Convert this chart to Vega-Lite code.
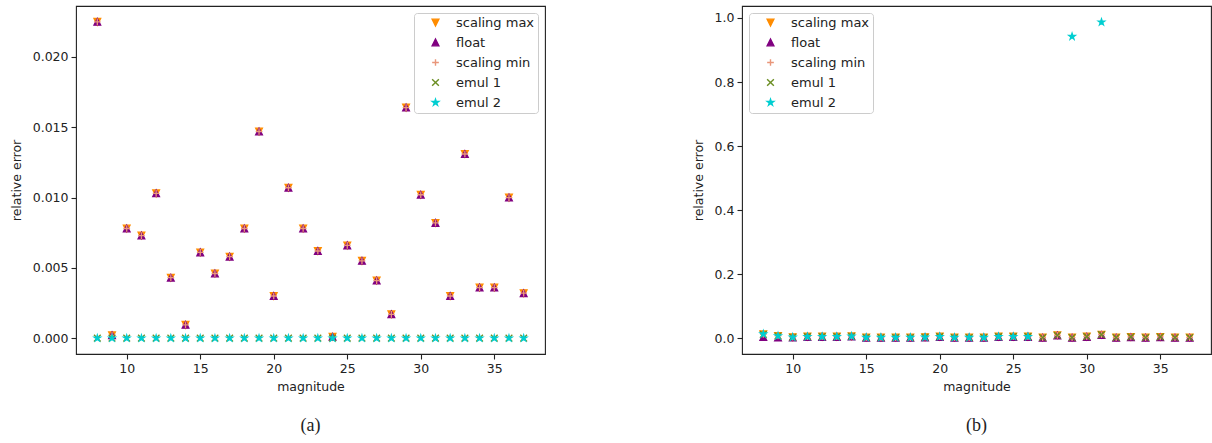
{
"$schema": "https://vega.github.io/schema/vega-lite/v6.json",
"padding": {"left": 9, "top": 5, "right": 2, "bottom": 5},
"background": "white",
"config": {
  "view": {"stroke": "#222", "strokeWidth": 1.1},
  "font": "DejaVu Sans",
  "axis": {"grid": false, "domain": false, "tickColor": "#222", "tickSize": 5, "tickWidth": 1.1, "labelFont": "DejaVu Sans", "labelFontSize": 12.5, "labelColor": "#222", "titleFont": "DejaVu Sans", "titleFontSize": 12.5, "titleFontWeight": "normal", "titleColor": "#222", "labelPadding": 3, "titlePadding": 9},
  "axisX": {"titlePadding": 6},
  "legend": {"offset": 7, "padding": 3, "fillColor": "rgba(255,255,255,0.8)", "strokeColor": "#cccccc", "cornerRadius": 3, "labelFont": "DejaVu Sans", "labelFontSize": 13, "labelColor": "#222", "symbolSize": 45, "symbolStrokeWidth": 1.4, "rowPadding": 6, "labelOffset": 14, "symbolOffset": 12},
  "title": {"font": "Liberation Serif", "fontSize": 18, "fontWeight": "normal", "color": "#222", "orient": "bottom", "anchor": "middle", "offset": 24}
},
"datasets": {
  "a": [
    {"mag":8,"series":"scaling max","err":0.0225},{"mag":9,"series":"scaling max","err":0.0002},{"mag":10,"series":"scaling max","err":0.0078},{"mag":11,"series":"scaling max","err":0.0073},{"mag":12,"series":"scaling max","err":0.0103},{"mag":13,"series":"scaling max","err":0.0043},{"mag":14,"series":"scaling max","err":0.00095},{"mag":15,"series":"scaling max","err":0.0061},{"mag":16,"series":"scaling max","err":0.0046},{"mag":17,"series":"scaling max","err":0.0058},{"mag":18,"series":"scaling max","err":0.0078},{"mag":19,"series":"scaling max","err":0.0147},{"mag":20,"series":"scaling max","err":0.0030},{"mag":21,"series":"scaling max","err":0.0107},{"mag":22,"series":"scaling max","err":0.0078},{"mag":23,"series":"scaling max","err":0.0062},{"mag":24,"series":"scaling max","err":0.0001},{"mag":25,"series":"scaling max","err":0.0066},{"mag":26,"series":"scaling max","err":0.0055},{"mag":27,"series":"scaling max","err":0.0041},{"mag":28,"series":"scaling max","err":0.0017},{"mag":29,"series":"scaling max","err":0.0164},{"mag":30,"series":"scaling max","err":0.0102},{"mag":31,"series":"scaling max","err":0.0082},{"mag":32,"series":"scaling max","err":0.0030},{"mag":33,"series":"scaling max","err":0.0131},{"mag":34,"series":"scaling max","err":0.0036},{"mag":35,"series":"scaling max","err":0.0036},{"mag":36,"series":"scaling max","err":0.0100},{"mag":37,"series":"scaling max","err":0.0032},
    {"mag":8,"series":"float","err":0.0225},{"mag":9,"series":"float","err":0.0002},{"mag":10,"series":"float","err":0.0078},{"mag":11,"series":"float","err":0.0073},{"mag":12,"series":"float","err":0.0103},{"mag":13,"series":"float","err":0.0043},{"mag":14,"series":"float","err":0.00095},{"mag":15,"series":"float","err":0.0061},{"mag":16,"series":"float","err":0.0046},{"mag":17,"series":"float","err":0.0058},{"mag":18,"series":"float","err":0.0078},{"mag":19,"series":"float","err":0.0147},{"mag":20,"series":"float","err":0.0030},{"mag":21,"series":"float","err":0.0107},{"mag":22,"series":"float","err":0.0078},{"mag":23,"series":"float","err":0.0062},{"mag":24,"series":"float","err":0.0001},{"mag":25,"series":"float","err":0.0066},{"mag":26,"series":"float","err":0.0055},{"mag":27,"series":"float","err":0.0041},{"mag":28,"series":"float","err":0.0017},{"mag":29,"series":"float","err":0.0164},{"mag":30,"series":"float","err":0.0102},{"mag":31,"series":"float","err":0.0082},{"mag":32,"series":"float","err":0.0030},{"mag":33,"series":"float","err":0.0131},{"mag":34,"series":"float","err":0.0036},{"mag":35,"series":"float","err":0.0036},{"mag":36,"series":"float","err":0.0100},{"mag":37,"series":"float","err":0.0032},
    {"mag":8,"series":"scaling min","err":0.0225},{"mag":9,"series":"scaling min","err":0.0002},{"mag":10,"series":"scaling min","err":0.0078},{"mag":11,"series":"scaling min","err":0.0073},{"mag":12,"series":"scaling min","err":0.0103},{"mag":13,"series":"scaling min","err":0.0043},{"mag":14,"series":"scaling min","err":0.00095},{"mag":15,"series":"scaling min","err":0.0061},{"mag":16,"series":"scaling min","err":0.0046},{"mag":17,"series":"scaling min","err":0.0058},{"mag":18,"series":"scaling min","err":0.0078},{"mag":19,"series":"scaling min","err":0.0147},{"mag":20,"series":"scaling min","err":0.0030},{"mag":21,"series":"scaling min","err":0.0107},{"mag":22,"series":"scaling min","err":0.0078},{"mag":23,"series":"scaling min","err":0.0062},{"mag":24,"series":"scaling min","err":0.0001},{"mag":25,"series":"scaling min","err":0.0066},{"mag":26,"series":"scaling min","err":0.0055},{"mag":27,"series":"scaling min","err":0.0041},{"mag":28,"series":"scaling min","err":0.0017},{"mag":29,"series":"scaling min","err":0.0164},{"mag":30,"series":"scaling min","err":0.0102},{"mag":31,"series":"scaling min","err":0.0082},{"mag":32,"series":"scaling min","err":0.0030},{"mag":33,"series":"scaling min","err":0.0131},{"mag":34,"series":"scaling min","err":0.0036},{"mag":35,"series":"scaling min","err":0.0036},{"mag":36,"series":"scaling min","err":0.0100},{"mag":37,"series":"scaling min","err":0.0032},
    {"mag":8,"series":"emul 1","err":0},{"mag":9,"series":"emul 1","err":0},{"mag":10,"series":"emul 1","err":0},{"mag":11,"series":"emul 1","err":0},{"mag":12,"series":"emul 1","err":0},{"mag":13,"series":"emul 1","err":0},{"mag":14,"series":"emul 1","err":0},{"mag":15,"series":"emul 1","err":0},{"mag":16,"series":"emul 1","err":0},{"mag":17,"series":"emul 1","err":0},{"mag":18,"series":"emul 1","err":0},{"mag":19,"series":"emul 1","err":0},{"mag":20,"series":"emul 1","err":0},{"mag":21,"series":"emul 1","err":0},{"mag":22,"series":"emul 1","err":0},{"mag":23,"series":"emul 1","err":0},{"mag":24,"series":"emul 1","err":0},{"mag":25,"series":"emul 1","err":0},{"mag":26,"series":"emul 1","err":0},{"mag":27,"series":"emul 1","err":0},{"mag":28,"series":"emul 1","err":0},{"mag":29,"series":"emul 1","err":0},{"mag":30,"series":"emul 1","err":0},{"mag":31,"series":"emul 1","err":0},{"mag":32,"series":"emul 1","err":0},{"mag":33,"series":"emul 1","err":0},{"mag":34,"series":"emul 1","err":0},{"mag":35,"series":"emul 1","err":0},{"mag":36,"series":"emul 1","err":0},{"mag":37,"series":"emul 1","err":0},
    {"mag":8,"series":"emul 2","err":0},{"mag":9,"series":"emul 2","err":0},{"mag":10,"series":"emul 2","err":0},{"mag":11,"series":"emul 2","err":0},{"mag":12,"series":"emul 2","err":0},{"mag":13,"series":"emul 2","err":0},{"mag":14,"series":"emul 2","err":0},{"mag":15,"series":"emul 2","err":0},{"mag":16,"series":"emul 2","err":0},{"mag":17,"series":"emul 2","err":0},{"mag":18,"series":"emul 2","err":0},{"mag":19,"series":"emul 2","err":0},{"mag":20,"series":"emul 2","err":0},{"mag":21,"series":"emul 2","err":0},{"mag":22,"series":"emul 2","err":0},{"mag":23,"series":"emul 2","err":0},{"mag":24,"series":"emul 2","err":0},{"mag":25,"series":"emul 2","err":0},{"mag":26,"series":"emul 2","err":0},{"mag":27,"series":"emul 2","err":0},{"mag":28,"series":"emul 2","err":0},{"mag":29,"series":"emul 2","err":0},{"mag":30,"series":"emul 2","err":0},{"mag":31,"series":"emul 2","err":0},{"mag":32,"series":"emul 2","err":0},{"mag":33,"series":"emul 2","err":0},{"mag":34,"series":"emul 2","err":0},{"mag":35,"series":"emul 2","err":0},{"mag":36,"series":"emul 2","err":0},{"mag":37,"series":"emul 2","err":0}
  ],
  "b": [
    {"mag":8,"series":"scaling max","err":0.012},{"mag":9,"series":"scaling max","err":0.007},{"mag":10,"series":"scaling max","err":0.003},{"mag":11,"series":"scaling max","err":0.005},{"mag":12,"series":"scaling max","err":0.005},{"mag":13,"series":"scaling max","err":0.005},{"mag":14,"series":"scaling max","err":0.006},{"mag":15,"series":"scaling max","err":0.002},{"mag":16,"series":"scaling max","err":0.002},{"mag":17,"series":"scaling max","err":0.002},{"mag":18,"series":"scaling max","err":0.002},{"mag":19,"series":"scaling max","err":0.003},{"mag":20,"series":"scaling max","err":0.005},{"mag":21,"series":"scaling max","err":0.002},{"mag":22,"series":"scaling max","err":0.002},{"mag":23,"series":"scaling max","err":0.002},{"mag":24,"series":"scaling max","err":0.005},{"mag":25,"series":"scaling max","err":0.005},{"mag":26,"series":"scaling max","err":0.005},{"mag":27,"series":"scaling max","err":0.002},{"mag":28,"series":"scaling max","err":0.009},{"mag":29,"series":"scaling max","err":0.002},{"mag":30,"series":"scaling max","err":0.005},{"mag":31,"series":"scaling max","err":0.011},{"mag":32,"series":"scaling max","err":0.002},{"mag":33,"series":"scaling max","err":0.004},{"mag":34,"series":"scaling max","err":0.002},{"mag":35,"series":"scaling max","err":0.004},{"mag":36,"series":"scaling max","err":0.002},{"mag":37,"series":"scaling max","err":0.002},
    {"mag":8,"series":"float","err":0.004},{"mag":9,"series":"float","err":0.002},{"mag":10,"series":"float","err":0.002},{"mag":11,"series":"float","err":0.004},{"mag":12,"series":"float","err":0.004},{"mag":13,"series":"float","err":0.004},{"mag":14,"series":"float","err":0.005},{"mag":15,"series":"float","err":0.001},{"mag":16,"series":"float","err":0.001},{"mag":17,"series":"float","err":0.001},{"mag":18,"series":"float","err":0.001},{"mag":19,"series":"float","err":0.002},{"mag":20,"series":"float","err":0.004},{"mag":21,"series":"float","err":0.001},{"mag":22,"series":"float","err":0.001},{"mag":23,"series":"float","err":0.001},{"mag":24,"series":"float","err":0.004},{"mag":25,"series":"float","err":0.004},{"mag":26,"series":"float","err":0.004},{"mag":27,"series":"float","err":0.001},{"mag":28,"series":"float","err":0.008},{"mag":29,"series":"float","err":0.001},{"mag":30,"series":"float","err":0.004},{"mag":31,"series":"float","err":0.010},{"mag":32,"series":"float","err":0.001},{"mag":33,"series":"float","err":0.003},{"mag":34,"series":"float","err":0.001},{"mag":35,"series":"float","err":0.003},{"mag":36,"series":"float","err":0.001},{"mag":37,"series":"float","err":0.001},
    {"mag":8,"series":"scaling min","err":0.012},{"mag":9,"series":"scaling min","err":0.007},{"mag":10,"series":"scaling min","err":0.003},{"mag":11,"series":"scaling min","err":0.005},{"mag":12,"series":"scaling min","err":0.005},{"mag":13,"series":"scaling min","err":0.005},{"mag":14,"series":"scaling min","err":0.006},{"mag":15,"series":"scaling min","err":0.002},{"mag":16,"series":"scaling min","err":0.002},{"mag":17,"series":"scaling min","err":0.002},{"mag":18,"series":"scaling min","err":0.002},{"mag":19,"series":"scaling min","err":0.003},{"mag":20,"series":"scaling min","err":0.005},{"mag":21,"series":"scaling min","err":0.002},{"mag":22,"series":"scaling min","err":0.002},{"mag":23,"series":"scaling min","err":0.002},{"mag":24,"series":"scaling min","err":0.005},{"mag":25,"series":"scaling min","err":0.005},{"mag":26,"series":"scaling min","err":0.005},{"mag":27,"series":"scaling min","err":0.002},{"mag":28,"series":"scaling min","err":0.009},{"mag":29,"series":"scaling min","err":0.002},{"mag":30,"series":"scaling min","err":0.005},{"mag":31,"series":"scaling min","err":0.011},{"mag":32,"series":"scaling min","err":0.002},{"mag":33,"series":"scaling min","err":0.004},{"mag":34,"series":"scaling min","err":0.002},{"mag":35,"series":"scaling min","err":0.004},{"mag":36,"series":"scaling min","err":0.002},{"mag":37,"series":"scaling min","err":0.002},
    {"mag":8,"series":"emul 1","err":0.012},{"mag":9,"series":"emul 1","err":0.007},{"mag":10,"series":"emul 1","err":0.003},{"mag":11,"series":"emul 1","err":0.005},{"mag":12,"series":"emul 1","err":0.005},{"mag":13,"series":"emul 1","err":0.005},{"mag":14,"series":"emul 1","err":0.006},{"mag":15,"series":"emul 1","err":0.002},{"mag":16,"series":"emul 1","err":0.002},{"mag":17,"series":"emul 1","err":0.002},{"mag":18,"series":"emul 1","err":0.002},{"mag":19,"series":"emul 1","err":0.003},{"mag":20,"series":"emul 1","err":0.005},{"mag":21,"series":"emul 1","err":0.002},{"mag":22,"series":"emul 1","err":0.002},{"mag":23,"series":"emul 1","err":0.002},{"mag":24,"series":"emul 1","err":0.005},{"mag":25,"series":"emul 1","err":0.005},{"mag":26,"series":"emul 1","err":0.005},{"mag":27,"series":"emul 1","err":0.002},{"mag":28,"series":"emul 1","err":0.009},{"mag":29,"series":"emul 1","err":0.002},{"mag":30,"series":"emul 1","err":0.005},{"mag":31,"series":"emul 1","err":0.011},{"mag":32,"series":"emul 1","err":0.002},{"mag":33,"series":"emul 1","err":0.004},{"mag":34,"series":"emul 1","err":0.002},{"mag":35,"series":"emul 1","err":0.004},{"mag":36,"series":"emul 1","err":0.002},{"mag":37,"series":"emul 1","err":0.002},
    {"mag":8,"series":"emul 2","err":0.013},{"mag":9,"series":"emul 2","err":0.007},{"mag":10,"series":"emul 2","err":0.003},{"mag":11,"series":"emul 2","err":0.005},{"mag":12,"series":"emul 2","err":0.005},{"mag":13,"series":"emul 2","err":0.005},{"mag":14,"series":"emul 2","err":0.006},{"mag":15,"series":"emul 2","err":0.002},{"mag":16,"series":"emul 2","err":0.002},{"mag":17,"series":"emul 2","err":0.002},{"mag":18,"series":"emul 2","err":0.002},{"mag":19,"series":"emul 2","err":0.003},{"mag":20,"series":"emul 2","err":0.005},{"mag":21,"series":"emul 2","err":0.002},{"mag":22,"series":"emul 2","err":0.002},{"mag":23,"series":"emul 2","err":0.002},{"mag":24,"series":"emul 2","err":0.005},{"mag":25,"series":"emul 2","err":0.005},{"mag":26,"series":"emul 2","err":0.005},{"mag":29,"series":"emul 2","err":0.942},{"mag":31,"series":"emul 2","err":0.987}
  ]
},
"spacing": 145,
"resolve": {"scale": {"fill": "independent", "stroke": "independent", "shape": "independent"}, "legend": {"fill": "independent", "stroke": "independent", "shape": "independent"}},
"hconcat": [
  {
    "width": 469, "height": 348,
    "data": {"name": "a"},
    "title": {"text": "(a)"},
    "mark": {"type": "point", "filled": true, "size": 45, "strokeWidth": 1.3, "opacity": 1},
    "encoding": {
      "x": {"field": "mag", "type": "quantitative", "scale": {"domain": [6.55, 38.45], "nice": false, "zero": false}, "axis": {"values": [10, 15, 20, 25, 30, 35], "title": "magnitude"}},
      "y": {"field": "err", "type": "quantitative", "scale": {"domain": [-0.001125, 0.023625], "nice": false, "zero": false}, "axis": {"values": [0, 0.005, 0.01, 0.015, 0.02], "format": ".3f", "title": "relative error"}},
      "fill": {"field": "series", "type": "nominal", "scale": {"domain": ["scaling max", "float", "scaling min", "emul 1", "emul 2"], "range": ["#ff8c00", "#800080", "#e9967a", "#6b8e23", "#00ced1"]}, "legend": {"title": null, "orient": "top-right"}},
      "stroke": {"field": "series", "type": "nominal", "scale": {"domain": ["scaling max", "float", "scaling min", "emul 1", "emul 2"], "range": ["#ff8c00", "#800080", "#e9967a", "#6b8e23", "#00ced1"]}, "legend": {"title": null, "orient": "top-right"}},
      "shape": {"field": "series", "type": "nominal", "scale": {"domain": ["scaling max", "float", "scaling min", "emul 1", "emul 2"], "range": ["M0,1L-1,-1L1,-1Z", "M0,-1L-1,1L1,1Z", "M-1,0H1M0,-1V1", "M-1,-1L1,1M-1,1L1,-1", "M0,-1L0.225,-0.309L0.951,-0.309L0.363,0.118L0.588,0.809L0,0.382L-0.588,0.809L-0.363,0.118L-0.951,-0.309L-0.225,-0.309Z"]}, "legend": {"title": null, "orient": "top-right"}}
    }
  },
  {
    "width": 469, "height": 348,
    "data": {"name": "b"},
    "title": {"text": "(b)"},
    "mark": {"type": "point", "filled": true, "size": 45, "strokeWidth": 1.3, "opacity": 1},
    "encoding": {
      "x": {"field": "mag", "type": "quantitative", "scale": {"domain": [6.55, 38.45], "nice": false, "zero": false}, "axis": {"values": [10, 15, 20, 25, 30, 35], "title": "magnitude"}},
      "y": {"field": "err", "type": "quantitative", "scale": {"domain": [-0.0494, 1.0374], "nice": false, "zero": false}, "axis": {"values": [0, 0.2, 0.4, 0.6, 0.8, 1.0], "format": ".1f", "title": "relative error"}},
      "fill": {"field": "series", "type": "nominal", "scale": {"domain": ["scaling max", "float", "scaling min", "emul 1", "emul 2"], "range": ["#ff8c00", "#800080", "#e9967a", "#6b8e23", "#00ced1"]}, "legend": {"title": null, "orient": "top-left"}},
      "stroke": {"field": "series", "type": "nominal", "scale": {"domain": ["scaling max", "float", "scaling min", "emul 1", "emul 2"], "range": ["#ff8c00", "#800080", "#e9967a", "#6b8e23", "#00ced1"]}, "legend": {"title": null, "orient": "top-left"}},
      "shape": {"field": "series", "type": "nominal", "scale": {"domain": ["scaling max", "float", "scaling min", "emul 1", "emul 2"], "range": ["M0,1L-1,-1L1,-1Z", "M0,-1L-1,1L1,1Z", "M-1,0H1M0,-1V1", "M-1,-1L1,1M-1,1L1,-1", "M0,-1L0.225,-0.309L0.951,-0.309L0.363,0.118L0.588,0.809L0,0.382L-0.588,0.809L-0.363,0.118L-0.951,-0.309L-0.225,-0.309Z"]}, "legend": {"title": null, "orient": "top-left"}}
    }
  }
]
}
